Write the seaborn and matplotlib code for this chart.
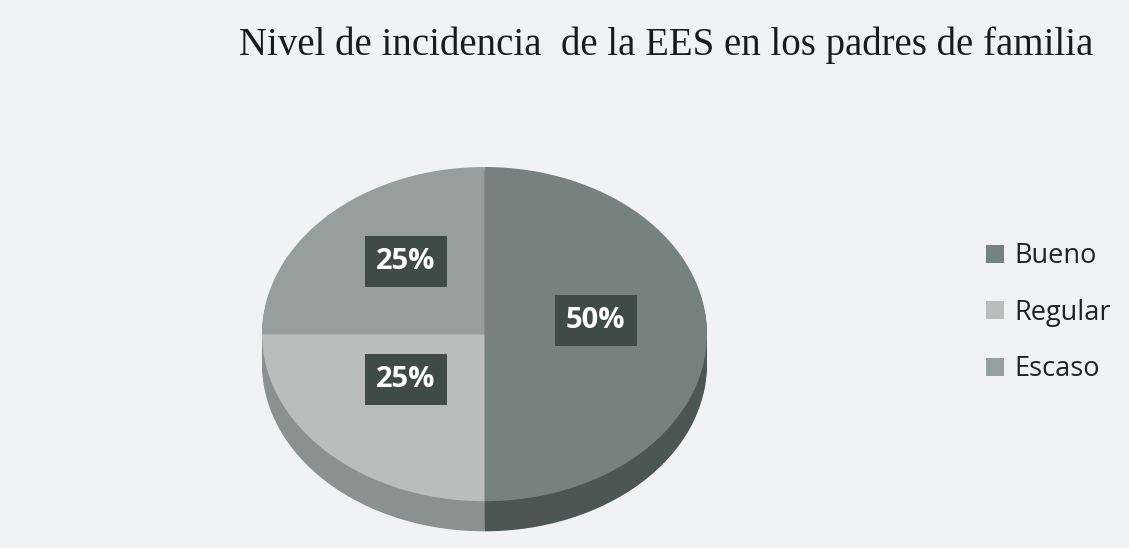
import seaborn as sns
import matplotlib.pyplot as plt
import numpy as np

# Datos
categorias = ['Bueno', 'Regular', 'Escaso']
porcentajes = [50, 25, 25]
colores_cara = ['#77817e', '#b9bebd', '#979f9d']
colores_lado = ['#4c5753', '#8b918f', '#6f7775']
titulo = 'Nivel de incidencia  de la EES en los padres de familia'

sns.set_style('white')
plt.rcParams['font.family'] = ['Open Sans', 'DejaVu Sans']

fig = plt.figure(figsize=(11.29, 5.48), dpi=100)
fig.patch.set_facecolor('#f0f2f3')

ax = fig.add_axes([262 / 1129, 15 / 548, 445 / 1129, 366 / 548])
ax.set_facecolor('none')

profundidad = 0.18
# Lado (grosor) del pastel 3D: capas apiladas
for d in np.linspace(profundidad, 0.01, 12):
    ax.pie(porcentajes, colors=colores_lado, startangle=90, counterclock=False,
           center=(0, -d), radius=1, frame=True,
           wedgeprops=dict(linewidth=0))

# Cara superior
cunas, _, autotextos = ax.pie(
    porcentajes, colors=colores_cara, startangle=90, counterclock=False,
    center=(0, 0), radius=1, frame=True, autopct='%1.0f%%', pctdistance=0.5,
    wedgeprops=dict(linewidth=0),
    textprops=dict(color='white', fontsize=21, fontweight='bold'))
for t in autotextos:
    x, y = t.get_position()
    t.set_position((x, y + 0.08))
    t.set_bbox(dict(facecolor='#3f4b47', edgecolor='none', pad=8))

ax.set_aspect('auto')
ax.set_xlim(-1, 1)
ax.set_ylim(-1 - profundidad - 0.01, 1)
ax.axis('off')

fig.text(0.59, 0.918, titulo, ha='center', va='center', fontsize=28,
         family=['Liberation Serif', 'DejaVu Serif'], color='#1a1a1a')

fig.legend(cunas, categorias, loc='center left', bbox_to_anchor=(0.852, 0.429),
           frameon=False, fontsize=19.5, handlelength=0.65, handleheight=0.65,
           handletextpad=0.4, labelspacing=1.05, labelcolor='#222222')

fig.savefig('out.png', dpi=100, facecolor=fig.get_facecolor())
